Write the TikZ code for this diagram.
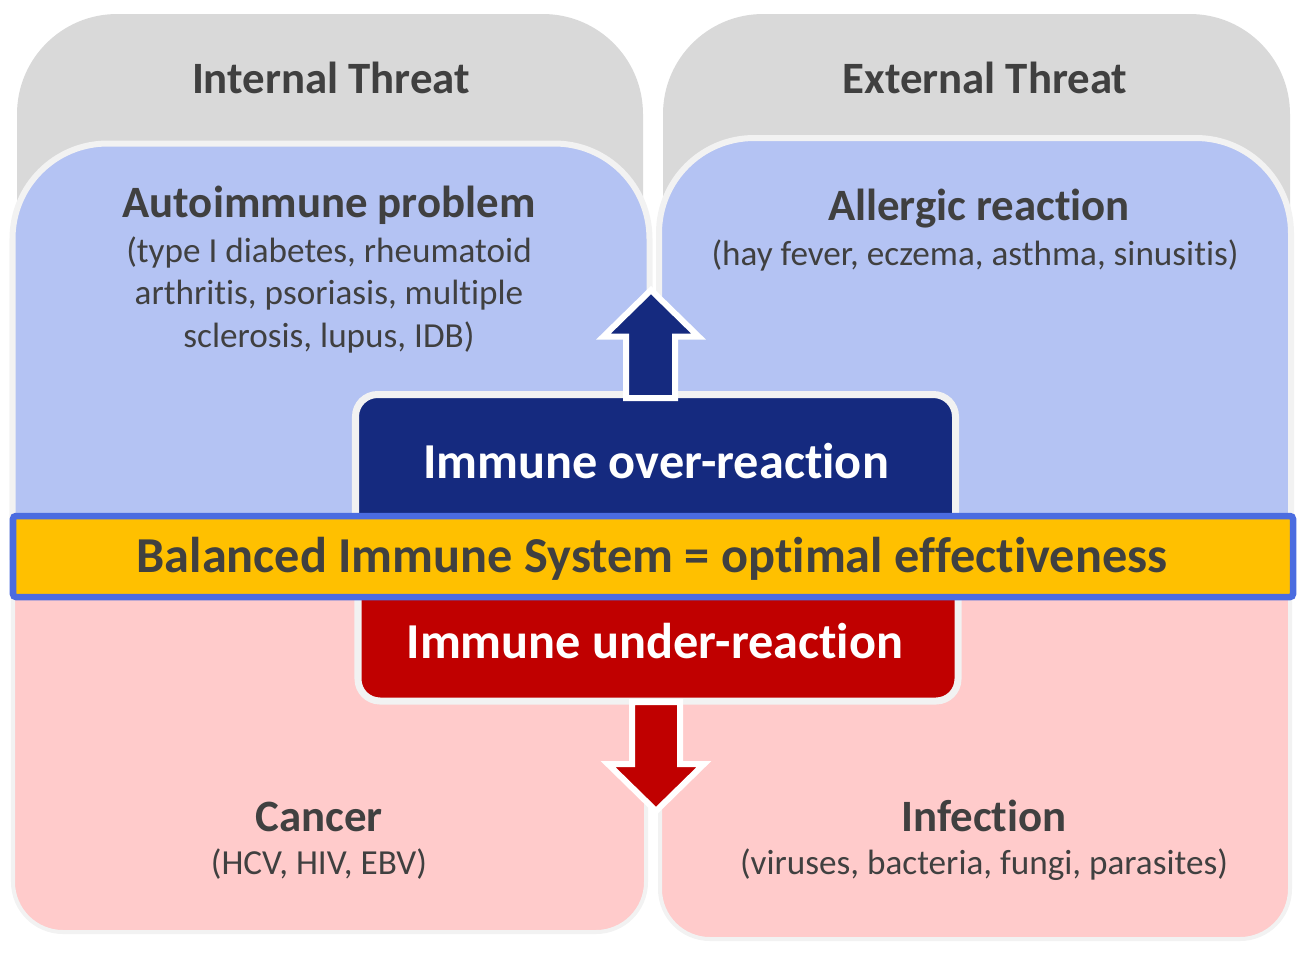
\documentclass[tikz,border=0pt]{standalone}
\usepackage{fontspec}
\setmainfont{Carlito}[Ligatures={NoCommon}]
\definecolor{threatgray}{HTML}{D9D9D9}
\definecolor{hiblue}{HTML}{B4C3F3}
\definecolor{lopink}{HTML}{FFCBCB}
\definecolor{rimgray}{HTML}{F2F2F2}
\definecolor{navy}{HTML}{152A7F}
\definecolor{deepred}{HTML}{C00000}
\definecolor{gold}{HTML}{FFC000}
\definecolor{bandblue}{HTML}{4B6CE0}
\definecolor{txtgray}{HTML}{404040}
\tikzset{
  threatbox/.style={fill=threatgray,rounded corners=1cm},
  hibox/.style={fill=hiblue,draw=rimgray,line width=0.06cm,rounded corners=0.95cm},
  lobox/.style={fill=lopink,draw=rimgray,line width=0.04cm,rounded corners=0.5cm},
  reactbox/.style={draw=rimgray,line width=0.07cm,rounded corners=0.22cm},
  blockarrow/.style={draw=white,line width=0.06cm,miter limit=3},
  head/.style={font=\bfseries\fontsize{12.75}{15}\selectfont,text=txtgray,anchor=base,inner sep=0pt},
  sub/.style={font=\fontsize{10}{12}\selectfont,text=txtgray,anchor=base,inner sep=0pt,align=center},
  big/.style={font=\bfseries\fontsize{14.3}{17}\selectfont,anchor=base,inner sep=0pt}
}
\begin{document}
\begin{tikzpicture}[x=0.01cm,y=-0.01cm]
  \useasboundingbox (0,0) rectangle (1305,959);
  % background regions
  \fill[threatbox] (17,600) -- (17,14) -- (643,14) -- (643,600);
  \fill[threatbox] (663,600) -- (663,14) -- (1290,14) -- (1290,600);
  \path[hibox] (12.5,560) -- (12.5,143.5) -- (649.5,143.5) -- (649.5,560);
  \path[hibox] (659,560) -- (659,138) -- (1291,138) -- (1291,560);
  \path[lobox] (13,530) -- (13,932) -- (646,932) -- (646,530);
  \path[lobox] (660,530) -- (660,939) -- (1290,939) -- (1290,530);
  % reaction boxes
  \path[reactbox,fill=navy] (355.5,394.5) rectangle (955.5,560);
  \path[reactbox,fill=deepred] (358,540) rectangle (958,701);
  \path[draw=bandblue,fill=gold,line width=0.065cm,rounded corners=0.03cm] (13,516) rectangle (1293,597);
  % arrows
  \path[blockarrow,fill=navy] (626,398) -- (626,336.5) -- (603.5,336.5) -- (651,290)
    -- (698.5,336.5) -- (675,336.5) -- (675,398) -- cycle;
  \path[blockarrow,fill=deepred] (632,702) -- (632,764) -- (608,764) -- (656,811)
    -- (704,764) -- (680,764) -- (680,702) -- cycle;
  % texts
  \node[head] (int) at (331,93) {Internal Threat};
  \node[head] (ext) at (985,93) {External Threat};
  \node[head] (auto) at (329,217) {Autoimmune problem};
  \node[sub] (autosub) at (329,347) {(type I diabetes, rheumatoid\\arthritis, psoriasis, multiple\\sclerosis, lupus, IDB)};
  \node[head] (allergy) at (979,220) {Allergic reaction};
  \node[sub] (allergysub) at (975,265) {(hay fever, eczema, asthma, sinusitis)};
  \node[big,text=white] (over) at (656,478) {Immune over-reaction};
  \node[big,text=txtgray] (balance) at (652,572) {Balanced Immune System = optimal effectiveness};
  \node[big,text=white] (under) at (655,658) {Immune under-reaction};
  \node[head] (cancer) at (319,831) {Cancer};
  \node[sub] (cancersub) at (319,874) {(HCV, HIV, EBV)};
  \node[head] (infect) at (984,831) {Infection};
  \node[sub] (infectsub) at (984,874) {(viruses, bacteria, fungi, parasites)};
\end{tikzpicture}
\end{document}
